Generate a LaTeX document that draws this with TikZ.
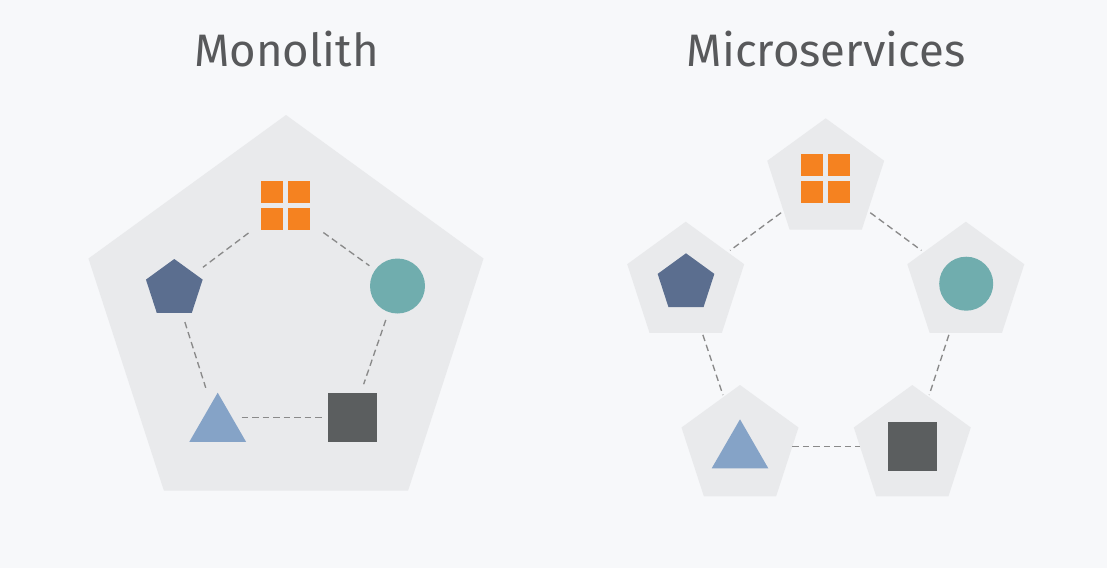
\documentclass[tikz,border=0pt]{standalone}
\usepackage{fontspec}
\setmainfont{Fira Sans}
\usetikzlibrary{shapes.geometric}
\definecolor{bgc}{HTML}{F7F8FA}
\definecolor{panel}{HTML}{E9EAEC}
\definecolor{orangec}{HTML}{F58220}
\definecolor{pentc}{HTML}{5B6E8F}
\definecolor{tealc}{HTML}{70ADAE}
\definecolor{tric}{HTML}{85A3C7}
\definecolor{sqc}{HTML}{5B5E5F}
\definecolor{linec}{HTML}{8A8A8A}
\definecolor{titlec}{HTML}{58595B}
\begin{document}
\begin{tikzpicture}[x=1pt,y=-1pt,
  panelpent/.style={regular polygon, regular polygon sides=5, fill=panel, draw=none, inner sep=0pt, outer sep=0pt, minimum size=#1},
  penticon/.style={regular polygon, regular polygon sides=5, fill=pentc, inner sep=0pt, outer sep=0pt, minimum size=59.6pt},
  circicon/.style={circle, fill=tealc, inner sep=0pt, outer sep=0pt, minimum size=#1},
  triicon/.style={regular polygon, regular polygon sides=3, fill=tric, inner sep=0pt, outer sep=0pt, minimum size=65.4pt},
  sqicon/.style={rectangle, fill=sqc, inner sep=0pt, outer sep=0pt, minimum size=49pt},
  gridicon/.style={rectangle, inner sep=0pt, outer sep=0pt, minimum size=49pt,
    path picture={
      \fill[orangec] (path picture bounding box.south west) rectangle ++(22pt,22pt);
      \fill[orangec] ([xshift=27pt]path picture bounding box.south west) rectangle ++(22pt,22pt);
      \fill[orangec] ([yshift=27pt]path picture bounding box.south west) rectangle ++(22pt,22pt);
      \fill[orangec] ([shift={(27pt,27pt)}]path picture bounding box.south west) rectangle ++(22pt,22pt);
    }},
  link/.style={draw=linec, line width=1.35pt, dash pattern=on 6.5pt off 4pt},
  titletext/.style={text=titlec, font=\fontsize{45.5}{52}\selectfont, inner sep=0pt, anchor=base}
]
\fill[bgc] (0,0) rectangle (1107,568);
\path[use as bounding box] (0,0) rectangle (1107,568);

% titles
\node[titletext] (tmono) at (286.5,66) {Monolith};
\node[titletext] (tmicro) at (826,66) {Microservices};

% ---------------- Monolith ----------------
\node[panelpent=415.4pt] (mono) at (286,322.7) {};
\node[gridicon] (mg) at (285.5,205.2) {};
\node[penticon] (mp) at (174.3,288.8) {};
\node[circicon=55pt] (mc) at (397.5,286) {};
\node[triicon] (mt) at (217.7,425.4) {};
\node[sqicon] (ms) at (352.2,417.5) {};

\draw[link, shorten <=46.3pt, shorten >=35.8pt] (mg.center) -- (mp.center);
\draw[link, shorten <=46.7pt, shorten >=34.7pt] (mg.center) -- (mc.center);
\draw[link, shorten <=34.9pt, shorten >=39.5pt] (mp.center) -- (mt.center);
\draw[link, shorten <=35.9pt, shorten >=35.2pt] (mc.center) -- (ms.center);
\draw[link, shorten <=24pt, shorten >=29.5pt] (mt.center |- ms.center) -- (ms.center);

% ---------------- Microservices ----------------
\node[panelpent=123pt] (sg) at (825.7,179.8) {};
\node[panelpent=123pt] (sp) at (685.7,283.2) {};
\node[panelpent=123pt] (sc) at (965.8,283.2) {};
\node[panelpent=123pt] (st) at (740,446.5) {};
\node[panelpent=123pt] (ss) at (912.3,446.5) {};

\node[gridicon] (ig) at (825.5,178.5) {};
\node[penticon] (ip) at (686,283.1) {};
\node[circicon=54pt] (ic) at (966.2,283.7) {};
\node[triicon] (it) at (740,452) {};
\node[sqicon] (is) at (912.2,446.7) {};

\draw[link, shorten <=3pt, shorten >=3pt] (sg) -- (sp);
\draw[link, shorten <=3pt, shorten >=3pt] (sg) -- (sc);
\draw[link, shorten <=2pt, shorten >=2pt] (sp) -- (st);
\draw[link, shorten <=2pt, shorten >=2pt] (sc) -- (ss);
\draw[link, shorten <=0pt, shorten >=0pt] (st) -- (ss);
\end{tikzpicture}
\end{document}
